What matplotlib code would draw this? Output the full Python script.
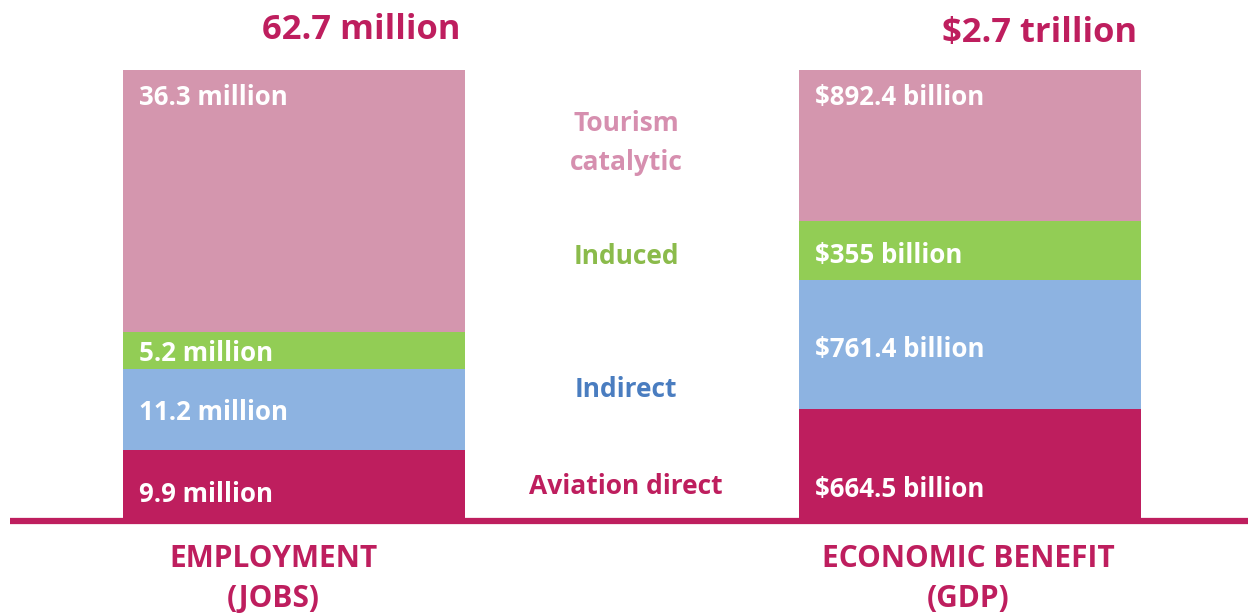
import matplotlib
matplotlib.use("Agg")
import matplotlib.pyplot as plt
import numpy as np

plt.rcParams['font.family'] = ['Open Sans', 'DejaVu Sans']

# ---- data ----
groups = ["EMPLOYMENT\n(JOBS)", "ECONOMIC BENEFIT\n(GDP)"]
totals = ["62.7 million", "$2.7 trillion"]
components = ["Aviation direct", "Indirect", "Induced", "Tourism\ncatalytic"]
employment = [9.9, 11.2, 5.2, 36.3]          # million jobs
gdp = [664.5, 761.4, 355.0, 892.4]           # billion USD
employment_labels = ["9.9 million", "11.2 million", "5.2 million", "36.3 million"]
gdp_labels = ["$664.5 billion", "$761.4 billion", "$355 billion", "$892.4 billion"]

# ---- style ----
seg_colors = ["#BE1E5E", "#8DB3E1", "#92CD55", "#D496AE"]
label_colors = ["#BE1E5E", "#4A7DC0", "#8BBB4B", "#D68FAF"]
dark = "#BE1E5E"

W, H = 1248, 615
fig = plt.figure(figsize=(W / 100, H / 100), dpi=100)
ax = fig.add_axes([0, 0, 1, 1])
ax.set_axis_off()

px_per_x = 676.0
x0 = -294.0 / px_per_x
ax.set_xlim(x0, x0 + W / px_per_x)
bottom_px, top_px = 521, 70
span = bottom_px - top_px
ax.set_ylim(-(H - bottom_px) / span, 1 + top_px / span)

def ypx(p):
    return p / span

def xpx(p):
    return p / px_per_x

xpos = np.array([0.0, 1.0])
width = 342.0 / px_per_x

series = [employment, gdp]
labels = [employment_labels, gdp_labels]
fracs = [np.array(s) / np.sum(s) for s in series]
total_dy = [40, 37]
bottom_dy = [27, 31]
mid_dy = [3, 5]

for i, (fr, labs) in enumerate(zip(fracs, labels)):
    bottoms = np.concatenate([[0], np.cumsum(fr)[:-1]])
    ax.bar(np.full(len(fr), xpos[i]), fr, width=width, bottom=bottoms,
           color=seg_colors, edgecolor="none", zorder=2)
    lx = xpos[i] - width / 2 + xpx(16)
    for k, (b, h, lab) in enumerate(zip(bottoms, fr, labs)):
        if k == 0:
            ly = ypx(bottom_dy[i])
        elif k == len(fr) - 1:
            ly = b + h - ypx(27)
        else:
            ly = b + h / 2 - ypx(mid_dy[i])
        ax.text(lx, ly, lab, color="white", fontsize=18.6, fontweight="bold",
                ha="left", va="center", zorder=3)
    # total above
    ax.text(xpos[i] + width / 2 - xpx(4), 1 + ypx(total_dy[i]), totals[i],
            color=dark, fontsize=24.8, fontweight="bold", ha="right", va="center")

# group labels below
group_offsets = [-21, -2]
for i, g in enumerate(groups):
    ax.text(xpos[i] + xpx(group_offsets[i]), -ypx(58), g, color=dark,
            fontsize=21.5, fontweight="bold", ha="center", va="center",
            linespacing=1.45)

# component legend in the middle
mid_x = 0.5 - xpx(6)
legend_y = [ypx(34), ypx(132), ypx(265), 1 - ypx(73)]
for k, comp in enumerate(components):
    ax.text(mid_x, legend_y[k], comp, color=label_colors[k], fontsize=19,
            fontweight="bold", ha="center", va="center", linespacing=1.55)

# baseline
ax.plot([x0 + xpx(10), x0 + W / px_per_x], [0, 0], color=dark, lw=4.5,
        solid_capstyle="butt", zorder=4)

fig.savefig("out.png", dpi=100)
